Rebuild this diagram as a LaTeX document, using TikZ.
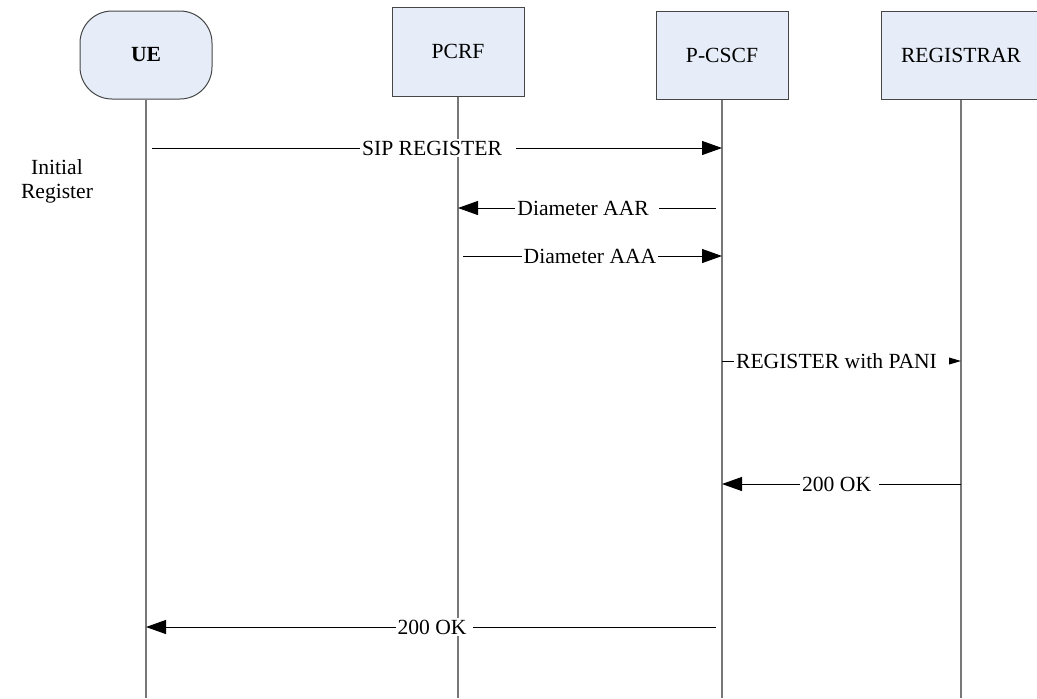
\documentclass[tikz,border=0pt]{standalone}
\usepackage{fontspec}
\setmainfont{Liberation Serif}
\usetikzlibrary{arrows.meta}
\definecolor{BoxFill}{RGB}{230,237,248}
\definecolor{BoxLine}{RGB}{70,70,70}
\definecolor{LifeGray}{RGB}{120,120,120}

\begin{document}
\begin{tikzpicture}[
    x=0.5pt, y=-0.5pt,
    every node/.style={font=\fontsize{10.8}{12}\selectfont},
    entity/.style={draw=BoxLine, fill=BoxFill, line width=0.5pt, minimum width=66pt, minimum height=44pt, inner sep=0pt},
    lifeline/.style={draw=LifeGray, line width=0.6pt},
    msg/.style={draw, line width=0.5pt, -{Triangle[length=10pt,width=7pt]}},
    smallmsg/.style={draw, line width=0.5pt, -{Triangle[length=7pt,width=4pt]}},
    lbl/.style={fill=white, inner xsep=1pt, inner ysep=1pt},
]
\useasboundingbox (0,0) rectangle (1037,698);

% entities
\node[entity, rounded corners=16pt] (ue) at (146,55) {\textbf{UE}};
\node[entity, minimum height=44.5pt] (pcrf) at (458,51.5) {PCRF};
\node[entity] (pcscf) at (722,55) {P-CSCF};
\node[entity, minimum width=80pt] (registrar) at (961,55) {REGISTRAR};

% lifelines
\coordinate (bottom) at (0,698);
\foreach \n in {ue,pcrf,pcscf,registrar}
    \draw[lifeline] (\n.south) -- (\n.south |- bottom);

\node[align=center] (initreg) at (57,181) {Initial\\Register};

% messages
\draw[msg, shorten <=3pt] (ue |- 0,148) -- node[lbl, pos=0.507] {SIP REGISTER\kern6pt} (pcscf |- 0,148);
\draw[msg, shorten <=3pt] (pcscf |- 0,208) -- node[lbl, pos=0.511] {Diameter AAR\kern4pt} (pcrf |- 0,208);
\draw[msg, shorten <=2.5pt] (pcrf |- 0,256) -- node[lbl] {Diameter AAA} (pcscf |- 0,256);
\draw[smallmsg] (pcscf |- 0,361) -- node[lbl, pos=0.5] {REGISTER with PANI\kern5pt} (registrar |- 0,361);
\draw[msg] (registrar |- 0,484) -- node[lbl, pos=0.508] {200 OK\kern3pt} (pcscf |- 0,484);
\draw[msg, shorten <=3pt] (pcscf |- 0,627) -- node[lbl] {200 OK\kern2pt} (ue |- 0,627);
\end{tikzpicture}
\end{document}
